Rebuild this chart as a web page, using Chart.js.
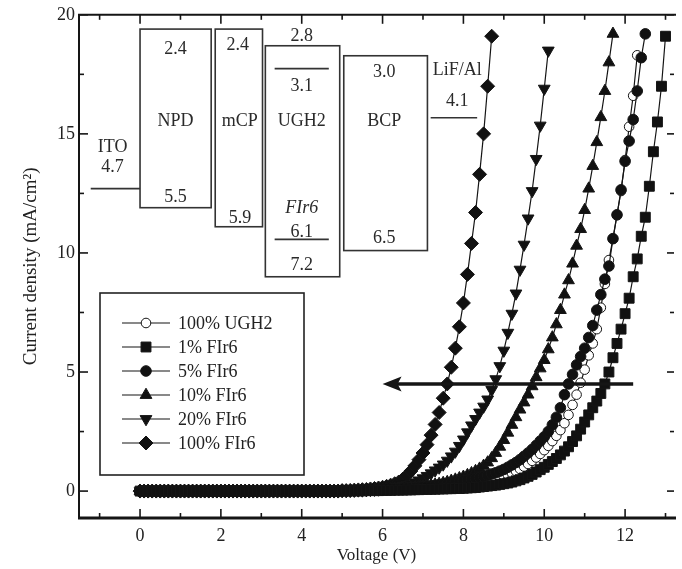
<!DOCTYPE html>
<html>
<head>
<meta charset="utf-8">
<script src="https://cdn.jsdelivr.net/npm/chart.js@4.4.1/dist/chart.umd.min.js"></script>
<style>
  html, body { margin: 0; padding: 0; background: #fff; overflow: hidden; }
  canvas { display: block; }
</style>
</head>
<body>
<canvas id="jvChart" width="682" height="569"></canvas>
<script>
    // voltage sweep (V), same for every device
    const voltage = [
        0.0, 0.1, 0.2, 0.3, 0.4, 0.5, 0.6, 0.7, 0.8, 0.9,
        1.0, 1.1, 1.2, 1.3, 1.4, 1.5, 1.6, 1.7, 1.8, 1.9,
        2.0, 2.1, 2.2, 2.3, 2.4, 2.5, 2.6, 2.7, 2.8, 2.9,
        3.0, 3.1, 3.2, 3.3, 3.4, 3.5, 3.6, 3.7, 3.8, 3.9,
        4.0, 4.1, 4.2, 4.3, 4.4, 4.5, 4.6, 4.7, 4.8, 4.9,
        5.0, 5.1, 5.2, 5.3, 5.4, 5.5, 5.6, 5.7, 5.8, 5.9,
        6.0, 6.1, 6.2, 6.3, 6.4, 6.5, 6.6, 6.7, 6.8, 6.9,
        7.0, 7.1, 7.2, 7.3, 7.4, 7.5, 7.6, 7.7, 7.8, 7.9,
        8.0, 8.1, 8.2, 8.3, 8.4, 8.5, 8.6, 8.7, 8.8, 8.9,
        9.0, 9.1, 9.2, 9.3, 9.4, 9.5, 9.6, 9.7, 9.8, 9.9,
        10.0, 10.1, 10.2, 10.3, 10.4, 10.5, 10.6, 10.7, 10.8, 10.9,
        11.0, 11.1, 11.2, 11.3, 11.4, 11.5, 11.6, 11.7, 11.8, 11.9,
        12.0, 12.1, 12.2, 12.3, 12.4, 12.5, 12.6, 12.7, 12.8, 12.9,
        13.0
    ];

    const seriesLabels = ['100% UGH2', '1% FIr6', '5% FIr6', '10% FIr6', '20% FIr6', '100% FIr6'];

    // current density (mA/cm2), one value per voltage step
    const jUGH2 = [
        0, 0, 0, 0, 0, 0, 0, 0, 0, 0,
        0, 0, 0, 0, 0, 0, 0, 0, 0, 0,
        0, 0, 0, 0, 0, 0, 0, 0, 0, 0,
        0, 0, 0, 0, 0, 0, 0, 0, 0, 0,
        0, 0, 0, 0, 0, 0, 0, 0, 0, 0,
        0.01, 0.01, 0.01, 0.01, 0.01, 0.01, 0.02, 0.02, 0.03, 0.03,
        0.04, 0.04, 0.05, 0.06, 0.06, 0.07, 0.08, 0.09, 0.10, 0.11,
        0.12, 0.13, 0.14, 0.15, 0.17, 0.18, 0.20, 0.22, 0.24, 0.26,
        0.28, 0.31, 0.34, 0.37, 0.40, 0.44, 0.48, 0.52, 0.56, 0.60,
        0.64, 0.68, 0.76, 0.84, 0.93, 1.03, 1.14, 1.27, 1.41, 1.56,
        1.72, 1.90, 2.10, 2.32, 2.56, 2.85, 3.20, 3.62, 4.05, 4.55,
        5.10, 5.70, 6.20, 6.80, 7.70, 8.70, 9.70, 10.6, 11.6, 12.6,
        13.9, 15.3, 16.6, 18.3
    ];
    const jFIr6_1 = [
        0, 0, 0, 0, 0, 0, 0, 0, 0, 0,
        0, 0, 0, 0, 0, 0, 0, 0, 0, 0,
        0, 0, 0, 0, 0, 0, 0, 0, 0, 0,
        0, 0, 0, 0, 0, 0, 0, 0, 0, 0,
        0, 0, 0, 0, 0, 0, 0, 0, 0, 0,
        0.01, 0.01, 0.01, 0.01, 0.01, 0.01, 0.02, 0.02, 0.02, 0.02,
        0.03, 0.03, 0.03, 0.04, 0.04, 0.04, 0.05, 0.05, 0.06, 0.06,
        0.07, 0.07, 0.08, 0.08, 0.09, 0.09, 0.10, 0.10, 0.11, 0.11,
        0.12, 0.13, 0.14, 0.15, 0.17, 0.19, 0.21, 0.23, 0.25, 0.28,
        0.31, 0.34, 0.38, 0.43, 0.48, 0.55, 0.62, 0.70, 0.80, 0.90,
        1.00, 1.12, 1.24, 1.37, 1.52, 1.68, 1.86, 2.08, 2.32, 2.60,
        2.90, 3.20, 3.50, 3.78, 4.10, 4.50, 5.00, 5.60, 6.20, 6.80,
        7.45, 8.10, 9.00, 9.75, 10.7, 11.5, 12.8, 14.25, 15.5, 17.0,
        19.1
    ];
    const jFIr6_5 = [
        0, 0, 0, 0, 0, 0, 0, 0, 0, 0,
        0, 0, 0, 0, 0, 0, 0, 0, 0, 0,
        0, 0, 0, 0, 0, 0, 0, 0, 0, 0,
        0, 0, 0, 0, 0, 0, 0, 0, 0, 0,
        0, 0, 0, 0, 0, 0, 0, 0, 0, 0,
        0.01, 0.01, 0.01, 0.02, 0.02, 0.02, 0.03, 0.03, 0.04, 0.05,
        0.06, 0.07, 0.08, 0.09, 0.10, 0.12, 0.13, 0.14, 0.15, 0.17,
        0.19, 0.21, 0.22, 0.24, 0.27, 0.29, 0.31, 0.34, 0.37, 0.40,
        0.43, 0.46, 0.50, 0.53, 0.57, 0.62, 0.67, 0.72, 0.77, 0.84,
        0.91, 1.00, 1.10, 1.20, 1.32, 1.46, 1.60, 1.75, 1.92, 2.10,
        2.28, 2.50, 2.78, 3.10, 3.50, 4.05, 4.50, 4.90, 5.30, 5.65,
        6.00, 6.45, 6.95, 7.60, 8.25, 8.90, 9.45, 10.6, 11.6, 12.65,
        13.85, 14.7, 15.6, 16.8, 18.2, 19.2
    ];
    const jFIr6_10 = [
        0, 0, 0, 0, 0, 0, 0, 0, 0, 0,
        0, 0, 0, 0, 0, 0, 0, 0, 0, 0,
        0, 0, 0, 0, 0, 0, 0, 0, 0, 0,
        0, 0, 0, 0, 0, 0, 0, 0, 0, 0,
        0, 0, 0, 0, 0, 0, 0, 0, 0, 0,
        0.01, 0.01, 0.01, 0.02, 0.02, 0.02, 0.03, 0.03, 0.04, 0.05,
        0.06, 0.07, 0.08, 0.09, 0.10, 0.11, 0.12, 0.14, 0.15, 0.17,
        0.19, 0.21, 0.24, 0.27, 0.30, 0.34, 0.38, 0.43, 0.48, 0.54,
        0.60, 0.67, 0.75, 0.84, 0.94, 1.06, 1.20, 1.38, 1.60, 1.86,
        2.14, 2.45, 2.78, 3.10, 3.42, 3.72, 4.05, 4.40, 4.78, 5.15,
        5.50, 5.95, 6.45, 7.00, 7.60, 8.25, 8.85, 9.55, 10.3, 11.0,
        11.8, 12.7, 13.65, 14.65, 15.7, 16.8, 18.0, 19.2
    ];
    const jFIr6_20 = [
        0, 0, 0, 0, 0, 0, 0, 0, 0, 0,
        0, 0, 0, 0, 0, 0, 0, 0, 0, 0,
        0, 0, 0, 0, 0, 0, 0, 0, 0, 0,
        0, 0, 0, 0, 0, 0, 0, 0, 0, 0,
        0, 0, 0, 0, 0, 0, 0, 0, 0, 0,
        0.01, 0.01, 0.02, 0.02, 0.03, 0.03, 0.04, 0.05, 0.06, 0.07,
        0.08, 0.10, 0.12, 0.15, 0.18, 0.22, 0.26, 0.31, 0.37, 0.45,
        0.54, 0.64, 0.75, 0.87, 0.99, 1.12, 1.28, 1.46, 1.66, 1.90,
        2.17, 2.47, 2.76, 3.03, 3.30, 3.55, 3.85, 4.25, 4.70, 5.25,
        5.90, 6.65, 7.45, 8.30, 9.30, 10.35, 11.45, 12.6, 13.95, 15.35,
        16.9, 18.5
    ];
    const jFIr6_100 = [
        0, 0, 0, 0, 0, 0, 0, 0, 0, 0,
        0, 0, 0, 0, 0, 0, 0, 0, 0, 0,
        0, 0, 0, 0, 0, 0, 0, 0, 0, 0,
        0, 0, 0, 0, 0, 0, 0, 0, 0, 0,
        0, 0, 0, 0, 0, 0, 0, 0, 0, 0,
        0.02, 0.02, 0.03, 0.04, 0.05, 0.06, 0.07, 0.09, 0.11, 0.13,
        0.16, 0.20, 0.25, 0.31, 0.38, 0.50, 0.65, 0.84, 1.06, 1.32,
        1.60, 1.95, 2.35, 2.80, 3.30, 3.90, 4.50, 5.20, 6.00, 6.90,
        7.90, 9.10, 10.4, 11.7, 13.3, 15.0, 17.0, 19.1
    ];

    const xTicks = [0, 2, 4, 6, 8, 10, 12];
    const xMinorTicks = [-1, 1, 3, 5, 7, 9, 11, 13];
    const yTicks = [0, 5, 10, 15, 20];
    const yMinorTicks = [2.5, 7.5, 12.5, 17.5];

    const seriesValues = [jUGH2, jFIr6_1, jFIr6_5, jFIr6_10, jFIr6_20, jFIr6_100];

    // marker look per series (same order as labels)
    const markerStyles = [
        { pointStyle: 'circle', radius: 4.8, fill: '#ffffff', rotation: 0 },
        { pointStyle: 'rect', radius: 7, fill: '#111111', rotation: 0 },
        { pointStyle: 'circle', radius: 5.3, fill: '#111111', rotation: 0 },
        { pointStyle: 'triangle', radius: 6.8, fill: '#111111', rotation: 0 },
        { pointStyle: 'triangle', radius: 6.8, fill: '#111111', rotation: 180 },
        { pointStyle: 'rectRot', radius: 7, fill: '#111111', rotation: 0 }
    ];

    // energy level diagram, in data units (V, mA/cm2)
    const levelBoxes = [
        { x0: 0.0, x1: 1.76, y0: 11.9, y1: 19.4 },
        { x0: 1.86, x1: 3.03, y0: 11.1, y1: 19.4 },
        { x0: 3.10, x1: 4.94, y0: 9.0, y1: 18.7 },
        { x0: 5.04, x1: 7.11, y0: 10.1, y1: 18.28 }
    ];
    const levelLines = [
        { x0: -1.22, x1: 0.0, y: 12.7 },
        { x0: 7.19, x1: 8.34, y: 15.68 },
        { x0: 3.33, x1: 4.67, y: 17.74 },
        { x0: 3.33, x1: 4.67, y: 10.57 }
    ];
    const levelLabels = [
        { t: '2.4', x: 0.88, y: 18.57 }, { t: 'NPD', x: 0.88, y: 15.55 }, { t: '5.5', x: 0.88, y: 12.33 },
        { t: '2.4', x: 2.42, y: 18.7 }, { t: 'mCP', x: 2.47, y: 15.55 }, { t: '5.9', x: 2.47, y: 11.45 },
        { t: '2.8', x: 4.0, y: 19.08 }, { t: '3.1', x: 4.0, y: 17.02 }, { t: 'UGH2', x: 4.0, y: 15.55 },
        { t: 'FIr6', x: 4.0, y: 11.87, italic: true }, { t: '6.1', x: 4.0, y: 10.86 }, { t: '7.2', x: 4.0, y: 9.48 },
        { t: '3.0', x: 6.04, y: 17.57 }, { t: 'BCP', x: 6.04, y: 15.55 }, { t: '6.5', x: 6.04, y: 10.61 },
        { t: 'ITO', x: -0.68, y: 14.42 }, { t: '4.7', x: -0.68, y: 13.58 },
        { t: 'LiF/Al', x: 7.85, y: 17.65 }, { t: '4.1', x: 7.85, y: 16.39 }
    ];
    const arrowFrom = [12.2, 4.5];
    const arrowTo = [6.0, 4.5];

    const serif = "'Liberation Serif', 'DejaVu Serif', serif";
    const ink = '#151515';

    function toPoints(values) {
        return values.map((j, i) => ({ x: voltage[i], y: j }));
    }

    function drawMarker(ctx, st, x, y) {
        ctx.fillStyle = st.fill;
        ctx.strokeStyle = ink;
        ctx.lineWidth = 1;
        Chart.helpers.drawPoint(ctx, { pointStyle: st.pointStyle, rotation: st.rotation, radius: st.radius, borderWidth: 1 }, x, y);
    }

    // energy level boxes + labels (behind the curves)
    const energyDiagram = {
        id: 'energyDiagram',
        beforeDatasetsDraw(chart) {
            const { ctx, scales: { x, y } } = chart;
            ctx.save();
            ctx.strokeStyle = '#333';
            ctx.lineWidth = 1.6;
            levelBoxes.forEach(b => {
                const l = x.getPixelForValue(b.x0), r = x.getPixelForValue(b.x1);
                const t = y.getPixelForValue(b.y1), btm = y.getPixelForValue(b.y0);
                ctx.strokeRect(l, t, r - l, btm - t);
            });
            levelLines.forEach(s => {
                const py = y.getPixelForValue(s.y);
                ctx.beginPath();
                ctx.moveTo(x.getPixelForValue(s.x0), py);
                ctx.lineTo(x.getPixelForValue(s.x1), py);
                ctx.stroke();
            });
            ctx.fillStyle = '#2a2a2a';
            ctx.textAlign = 'center';
            ctx.textBaseline = 'middle';
            levelLabels.forEach(lb => {
                ctx.font = (lb.italic ? 'italic ' : '') + '18px ' + serif;
                ctx.fillText(lb.t, x.getPixelForValue(lb.x), y.getPixelForValue(lb.y));
            });
            ctx.restore();
        }
    };

    // legend box, arrow, frame and inward ticks
    const overlay = {
        id: 'overlay',
        afterDraw(chart) {
            const { ctx, chartArea: a, scales: { x, y } } = chart;
            ctx.save();

            // legend
            ctx.strokeStyle = '#222';
            ctx.lineWidth = 1.6;
            ctx.strokeRect(100, 293, 204, 182);
            ctx.font = '18px ' + serif;
            ctx.textAlign = 'left';
            ctx.textBaseline = 'middle';
            seriesLabels.forEach((label, k) => {
                const ry = 323 + k * 24;
                ctx.strokeStyle = ink;
                ctx.lineWidth = 1.2;
                ctx.beginPath();
                ctx.moveTo(122, ry);
                ctx.lineTo(170, ry);
                ctx.stroke();
                drawMarker(ctx, markerStyles[k], 146, ry);
                ctx.fillStyle = '#222';
                ctx.fillText(label, 178, ry + 1);
            });

            // arrow
            const ax0 = x.getPixelForValue(arrowFrom[0]), ax1 = x.getPixelForValue(arrowTo[0]);
            const ay = y.getPixelForValue(arrowFrom[1]);
            ctx.strokeStyle = ink;
            ctx.fillStyle = ink;
            ctx.lineWidth = 3.5;
            ctx.beginPath();
            ctx.moveTo(ax0, ay);
            ctx.lineTo(ax1 + 14, ay);
            ctx.stroke();
            ctx.beginPath();
            ctx.moveTo(ax1, ay);
            ctx.lineTo(ax1 + 19, ay - 7.5);
            ctx.lineTo(ax1 + 15, ay);
            ctx.lineTo(ax1 + 19, ay + 7.5);
            ctx.closePath();
            ctx.fill();

            // frame
            ctx.strokeStyle = ink;
            ctx.lineWidth = 2;
            ctx.beginPath();
            ctx.moveTo(a.left, a.top);
            ctx.lineTo(a.right + 2, a.top);
            ctx.moveTo(a.left, a.top - 1);
            ctx.lineTo(a.left, a.bottom);
            ctx.stroke();
            ctx.lineWidth = 3;
            ctx.beginPath();
            ctx.moveTo(a.left - 1, a.bottom);
            ctx.lineTo(a.right + 2, a.bottom);
            ctx.stroke();

            // ticks
            ctx.lineWidth = 1.6;
            const seg = (x0, y0, x1, y1) => { ctx.beginPath(); ctx.moveTo(x0, y0); ctx.lineTo(x1, y1); ctx.stroke(); };
            xTicks.forEach(v => {
                const px = x.getPixelForValue(v);
                seg(px, a.bottom, px, a.bottom - 9);
                seg(px, a.top, px, a.top + 9);
            });
            xMinorTicks.forEach(v => {
                const px = x.getPixelForValue(v);
                seg(px, a.bottom, px, a.bottom - 5);
                seg(px, a.top, px, a.top + 5);
            });
            yTicks.forEach(v => {
                const py = y.getPixelForValue(v);
                seg(a.left, py, a.left + 9, py);
                seg(a.right, py, a.right - 7, py);
            });
            yMinorTicks.forEach(v => {
                const py = y.getPixelForValue(v);
                seg(a.left, py, a.left + 5, py);
                seg(a.right, py, a.right - 4, py);
            });
            ctx.restore();
        }
    };

    const ctx = document.getElementById('jvChart').getContext('2d');
    const jvChart = new Chart(ctx, {
        type: 'line',
        data: {
            datasets: seriesLabels.map((label, k) => ({
                label: label,
                data: toPoints(seriesValues[k]),
                borderColor: ink,
                borderWidth: 1.2,
                tension: 0,
                fill: false,
                pointStyle: markerStyles[k].pointStyle,
                pointRadius: markerStyles[k].radius,
                pointRotation: markerStyles[k].rotation,
                pointBackgroundColor: markerStyles[k].fill,
                pointBorderColor: ink,
                pointBorderWidth: 1,
                order: k === 0 ? 1 : 0
            }))
        },
        options: {
            responsive: false,
            animation: false,
            devicePixelRatio: 1,
            layout: { padding: { top: 14, right: 0, left: 0, bottom: 0 } },
            plugins: { legend: { display: false }, tooltip: { enabled: false } },
            scales: {
                x: {
                    type: 'linear',
                    min: -1.51,
                    max: 13.21,
                    afterBuildTicks: s => { s.ticks = xTicks.map(v => ({ value: v })); },
                    afterFit: s => { s.height = 51; },
                    grid: { display: false, drawTicks: false },
                    border: { display: false },
                    ticks: { color: '#222', font: { family: serif, size: 18 }, padding: 7, maxRotation: 0 },
                    title: { display: true, text: 'Voltage (V)', color: '#222', font: { family: serif, size: 17 }, padding: { top: 0, bottom: 3 } }
                },
                y: {
                    type: 'linear',
                    min: -1.13,
                    max: 20,
                    afterBuildTicks: s => { s.ticks = yTicks.map(v => ({ value: v })); },
                    afterFit: s => { s.width = 79; },
                    grid: { display: false, drawTicks: false },
                    border: { display: false },
                    ticks: { color: '#222', font: { family: serif, size: 18 }, padding: 4 },
                    title: { display: true, text: 'Current density (mA/cm\u00b2)', color: '#222', font: { family: serif, size: 19 }, padding: { top: 20, bottom: 0 } }
                }
            }
        },
        plugins: [energyDiagram, overlay]
    });
</script>
</body>
</html>
